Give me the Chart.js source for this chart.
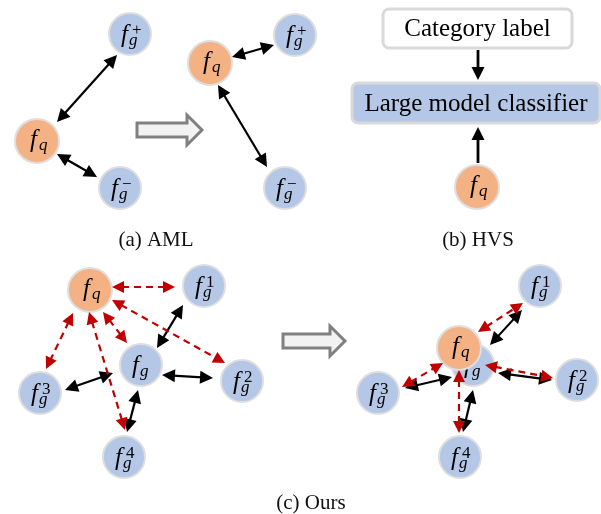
<!DOCTYPE html>
<html>
<head>
<meta charset="utf-8">
<script src="https://cdn.jsdelivr.net/npm/chart.js@4.4.0/dist/chart.umd.min.js"></script>
<style>
body { margin: 0; background: #fff; }
</style>
</head>
<body>
<canvas id="canvas" width="601" height="514"></canvas>
<script>
// node centres, in image units
var queryX = [37, 210, 477, 90, 459];
var queryY = [141, 63, 187, 290, 348];
var galleryX = [130, 120, 295, 285, 141, 204, 242, 40, 124, 473, 540, 577, 378, 460];
var galleryY = [34, 188, 35, 188, 365, 286, 381, 393, 457, 365, 286, 380, 393, 457];
var galleryTag = ['+', '\u2212', '+', '\u2212', '', '1', '2', '3', '4', '', '1', '2', '3', '4'];

// arrows: x1, y1, x2, y2
var blackArrows = [[57,122,117,55], [57,154,97,177], [232,57,274,45], [218,85,267,167],
	[157,348,183,305], [162,375,213,378], [65,390,113,373], [127,432,138,390],
	[490,345,522,310], [498,373,552,380], [405,388,452,377], [463,432,473,390]];
var redArrows = [[112,287,175,287], [112,300,225,363], [103,312,127,343], [73,313,46,369], [89,312,125,430],
	[478,332,523,303], [485,365,553,378], [402,387,443,363], [459,370,459,433]];
var singleArrows = [[478,50,478,80], [478,163,478,127]];
// hollow arrows: x start, y, x tip
var bigArrows = [[137,130,202], [283,341,345]];

// boxes of panel (b)
var boxText = ['Category label', 'Large model classifier'];
var boxLeft = [383, 352];
var boxRight = [572, 600];
var boxTop = [9, 83];
var boxBottom = [48, 123];
var boxFill = ['#ffffff', '#b4c7e7'];

var captions = ['(a) AML', '(b) HVS', '(c) Ours'];
var captionX = [156, 478, 311];
var captionY = [240, 240, 503];

function px(chart, x, y) {
	return [chart.scales.x.getPixelForValue(x), chart.scales.y.getPixelForValue(y)];
}

function drawHead(ctx, x, y, ang, len, w) {
	ctx.beginPath();
	ctx.moveTo(x, y);
	ctx.lineTo(x - len * Math.cos(ang) + w * Math.sin(ang), y - len * Math.sin(ang) - w * Math.cos(ang));
	ctx.lineTo(x - len * Math.cos(ang) - w * Math.sin(ang), y - len * Math.sin(ang) + w * Math.cos(ang));
	ctx.closePath();
	ctx.fill();
}

function drawArrow(ctx, a, b, color, dashed, both) {
	var ang = Math.atan2(b[1] - a[1], b[0] - a[0]);
	var len = dashed ? 12 : 13, w = dashed ? 6 : 6.5;
	var s = both ? [a[0] + (len - 2) * Math.cos(ang), a[1] + (len - 2) * Math.sin(ang)] : a;
	var e = [b[0] - (len - 2) * Math.cos(ang), b[1] - (len - 2) * Math.sin(ang)];
	ctx.save();
	ctx.strokeStyle = color;
	ctx.fillStyle = color;
	ctx.lineWidth = both ? 2.2 : 2.8;
	if (dashed) ctx.setLineDash([7, 5]);
	ctx.beginPath();
	ctx.moveTo(s[0], s[1]);
	ctx.lineTo(e[0], e[1]);
	ctx.stroke();
	ctx.setLineDash([]);
	drawHead(ctx, b[0], b[1], ang, len, w);
	if (both) drawHead(ctx, a[0], a[1], ang + Math.PI, len, w);
	ctx.restore();
}

function drawLabel(ctx, x, y, sub, sup) {
	ctx.save();
	ctx.fillStyle = '#000';
	ctx.textAlign = 'left';
	ctx.textBaseline = 'alphabetic';
	if (sup === null) {
		ctx.font = 'italic 25px "Liberation Serif"';
		ctx.fillText('f', x - 7, y + 6);
		ctx.font = 'italic 17px "Liberation Serif"';
		ctx.fillText(sub, x + 2, y + 9);
	} else {
		ctx.font = 'italic 25px "Liberation Serif"';
		ctx.fillText('f', x - 9, y + 8);
		ctx.font = 'italic 17px "Liberation Serif"';
		ctx.fillText(sub, x - 1, y + 11);
		ctx.font = '17px "Liberation Serif"';
		ctx.fillText(sup, x + 2, y + 1);
	}
	ctx.restore();
}

var diagramPlugin = {
	id: 'diagram',
	beforeDatasetsDraw: function(chart) {
		var ctx = chart.ctx;
		ctx.save();
		for (var i = 0; i < boxText.length; i++) {
			var p = px(chart, boxLeft[i], boxTop[i]);
			var q = px(chart, boxRight[i], boxBottom[i]);
			ctx.beginPath();
			ctx.roundRect(p[0], p[1], q[0] - p[0], q[1] - p[1], 6);
			ctx.fillStyle = boxFill[i];
			ctx.fill();
			ctx.lineWidth = 3;
			ctx.strokeStyle = '#d9d9d9';
			ctx.stroke();
			ctx.fillStyle = '#000';
			ctx.font = '25px "Liberation Serif"';
			ctx.textAlign = 'center';
			ctx.textBaseline = 'middle';
			ctx.fillText(boxText[i], (p[0] + q[0]) / 2, (p[1] + q[1]) / 2 + 1);
		}
		for (var j = 0; j < bigArrows.length; j++) {
			var b = bigArrows[j];
			var s = px(chart, b[0], b[1]);
			var t = px(chart, b[2], b[1]);
			var base = t[0] - 15;
			ctx.beginPath();
			ctx.moveTo(s[0], s[1] - 7);
			ctx.lineTo(base, s[1] - 7);
			ctx.lineTo(base, s[1] - 15);
			ctx.lineTo(t[0], s[1]);
			ctx.lineTo(base, s[1] + 15);
			ctx.lineTo(base, s[1] + 7);
			ctx.lineTo(s[0], s[1] + 7);
			ctx.closePath();
			ctx.fillStyle = '#f2f2f2';
			ctx.fill();
			ctx.lineWidth = 3;
			ctx.strokeStyle = '#808080';
			ctx.stroke();
		}
		for (var k = 0; k < captions.length; k++) {
			var c = px(chart, captionX[k], captionY[k]);
			ctx.fillStyle = '#111';
			ctx.font = '21px "Liberation Serif"';
			ctx.textAlign = 'center';
			ctx.textBaseline = 'middle';
			ctx.fillText(captions[k], c[0], c[1]);
		}
		ctx.restore();
	},
	afterDatasetDraw: function(chart, args) {
		var ctx = chart.ctx;
		var meta = args.meta;
		meta.data.forEach(function(pt, i) {
			if (args.index === 0) drawLabel(ctx, pt.x, pt.y, 'q', null);
			else drawLabel(ctx, pt.x, pt.y, 'g', galleryTag[i]);
		});
	},
	afterDatasetsDraw: function(chart) {
		var ctx = chart.ctx;
		blackArrows.forEach(function(r) {
			drawArrow(ctx, px(chart, r[0], r[1]), px(chart, r[2], r[3]), '#000', false, true);
		});
		redArrows.forEach(function(r) {
			drawArrow(ctx, px(chart, r[0], r[1]), px(chart, r[2], r[3]), '#c00000', true, true);
		});
		singleArrows.forEach(function(r) {
			drawArrow(ctx, px(chart, r[0], r[1]), px(chart, r[2], r[3]), '#000', false, false);
		});
	}
};

var ctx = document.getElementById('canvas').getContext('2d');
var config = {
	type : 'scatter',
	data : {
		datasets : [{
			label : 'query',
			data : queryX.map(function(x, i) { return {x: x, y: queryY[i]}; }),
			backgroundColor : '#f4b183',
			borderColor : '#dedede',
			borderWidth : 2,
			pointRadius : 22,
			pointHoverRadius : 22
		}, {
			label : 'gallery',
			data : galleryX.map(function(x, i) { return {x: x, y: galleryY[i]}; }),
			backgroundColor : '#b4c7e7',
			borderColor : '#dedede',
			borderWidth : 2,
			pointRadius : 21,
			pointHoverRadius : 21
		}]
	},
	options : {
		responsive : false,
		animation : false,
		events : [],
		clip : false,
		layout : { padding : 0, autoPadding : false },
		plugins : { legend : { display : false }, tooltip : { enabled : false } },
		scales : {
			x : { type : 'linear', min : 0, max : 601, display : false },
			y : { type : 'linear', min : 0, max : 514, reverse : true, display : false }
		}
	},
	plugins : [diagramPlugin]
};
window.myChart = new Chart(ctx, config);
</script>
</body>
</html>
